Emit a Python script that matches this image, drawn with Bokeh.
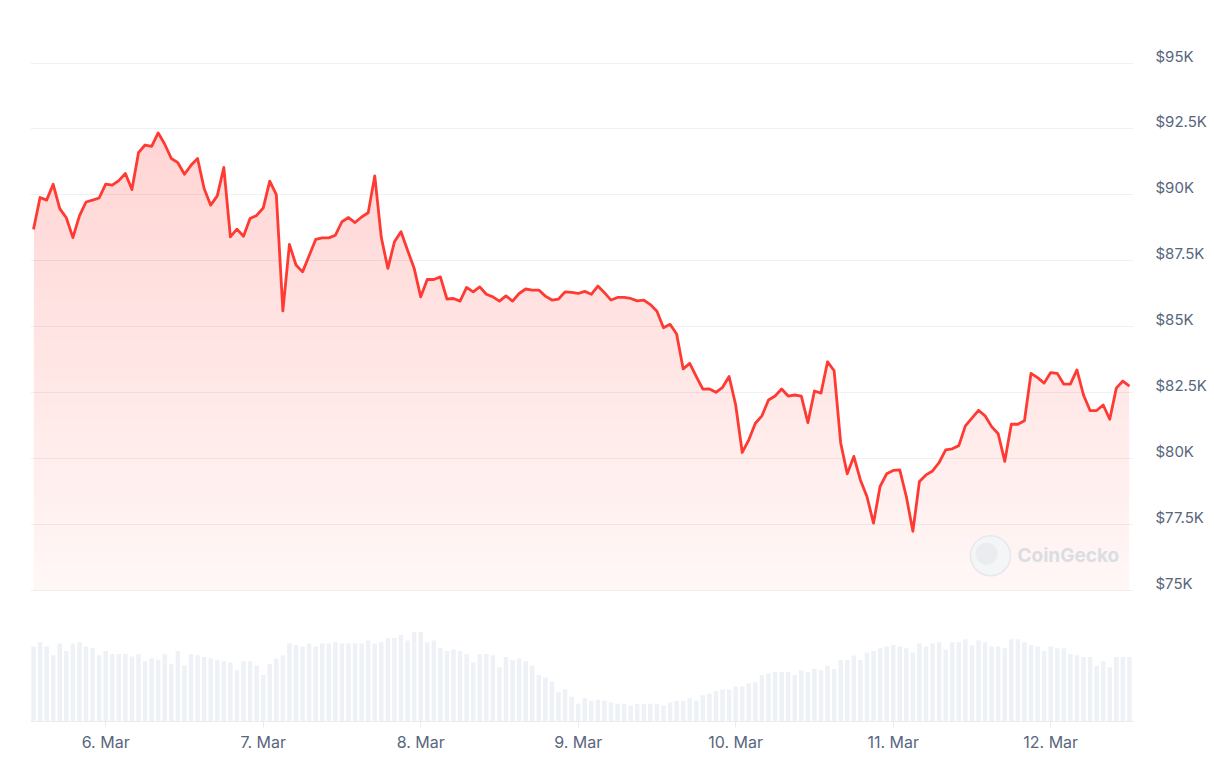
import numpy as np
import pandas as pd
from bokeh.plotting import figure
from bokeh.models import (Range1d, FixedTicker, DaysTicker,
                          CustomJSTickFormatter, Label)
from bokeh.embed import file_html
from bokeh.resources import INLINE

# ---------------- data ----------------
start_time = "2025-03-05 13:00"          # first hourly point
prices = [
    88690, 89900, 89800, 90400, 89480, 89130, 88380, 89200, 89730, 89800,
    89880, 90410, 90370, 90540, 90810, 90200, 91600, 91890, 91840, 92350,
    91920, 91380, 91220, 90780, 91120, 91380, 90240, 89610, 89960, 91040,
    88410, 88700, 88430, 89100, 89220, 89500, 90520, 90010, 85600, 88120,
    87340, 87080, 87690, 88310, 88370, 88370, 88470, 88980, 89140, 88950,
    89160, 89320, 90720, 88380, 87210, 88220, 88600, 87900, 87220, 86130,
    86790, 86790, 86890, 86050, 86070, 85970, 86490, 86320, 86510, 86230,
    86130, 85970, 86170, 85970, 86260, 86430, 86390, 86390, 86160, 86010,
    86050, 86320, 86300, 86260, 86340, 86230, 86540, 86290, 86010, 86110,
    86110, 86070, 85980, 86010, 85840, 85590, 84960, 85090, 84720, 83400,
    83610, 83110, 82630, 82640, 82510, 82700, 83110, 82030, 80230, 80710,
    81340, 81620, 82220, 82370, 82640, 82370, 82410, 82370, 81360, 82560,
    82480, 83670, 83330, 80590, 79420, 80080, 79190, 78560, 77550, 78940,
    79420, 79550, 79570, 78560, 77240, 79130, 79380, 79530, 79850, 80330,
    80370, 80490, 81240, 81530, 81830, 81620, 81210, 80940, 79890, 81300,
    81300, 81430, 83230, 83070, 82860, 83260, 83230, 82820, 82820, 83360,
    82410, 81820, 81820, 82030, 81490, 82670, 82940, 82750,
]
# 24h volume, billions USD (estimated, relative bar heights)
volumes = [
    45.0, 47.6, 45.0, 39.8, 46.8, 42.4, 46.8, 47.6, 45.0, 44.2,
    39.8, 42.4, 40.6, 40.6, 40.6, 39.0, 40.6, 36.2, 37.8, 37.0,
    40.6, 34.4, 42.4, 33.6, 40.6, 39.8, 38.8, 38.0, 37.0, 36.2,
    35.4, 31.0, 36.2, 36.2, 33.6, 28.0, 34.4, 37.8, 39.8, 46.8,
    46.0, 45.0, 46.8, 45.0, 46.8, 46.8, 47.6, 46.8, 46.8, 46.8,
    46.8, 48.6, 46.8, 47.6, 50.2, 50.2, 52.0, 48.6, 53.8, 53.8,
    47.6, 48.6, 44.2, 42.4, 43.2, 42.4, 40.6, 35.4, 40.6, 40.6,
    39.8, 32.6, 38.8, 37.0, 37.8, 36.2, 33.6, 28.0, 26.4, 24.0,
    17.6, 19.4, 14.8, 10.6, 14.0, 12.4, 13.0,
    12.4, 11.4, 10.6, 10.6, 9.6, 10.6, 10.6, 10.6, 10.6, 9.6,
    11.4, 12.4, 12.4, 14.0, 12.4, 15.8, 16.6, 18.4, 19.2, 19.2,
    21.0, 21.0, 22.8, 23.6, 28.0, 29.0, 29.8, 29.8, 29.8, 28.0,
    30.8, 29.8, 31.6, 30.8, 33.4, 31.6, 37.0, 37.0, 39.6, 37.0,
    41.4, 42.4, 44.0, 45.0, 46.0, 45.0, 44.0, 41.4, 46.8, 45.0,
    46.8, 47.6, 43.2, 47.6, 47.6, 49.4, 45.8, 48.6, 47.6, 45.0,
    45.0, 44.0, 49.4, 49.4, 47.6, 45.8, 45.0, 42.4, 45.0, 44.0,
    44.0, 40.6, 39.8, 38.8, 38.8, 33.4, 36.2, 32.6, 38.8, 38.8, 38.8,
]
price_ticks = [75000, 77500, 80000, 82500, 85000, 87500, 90000, 92500, 95000]
month_names = ["Jan", "Feb", "Mar", "Apr", "May", "Jun",
               "Jul", "Aug", "Sep", "Oct", "Nov", "Dec"]

# ---------------- layout constants ----------------
FIG_W, FIG_H = 1212, 754
B_LEFT, B_RIGHT, B_TOP, B_BOTTOM = 30, 79, 8, 32
FRAME_W = FIG_W - B_LEFT - B_RIGHT
FRAME_H = FIG_H - B_TOP - B_BOTTOM
PX_PER_HOUR = 6.5625
PX_PER_K = 26.405
TOP_TICK_PX = 54.6          # 95K gridline below frame top
VOL_PX_PER_UNIT = 5.0 / 3.0
LABEL_LIFT_PX = 7           # y labels sit a little above their gridline

RED = "#ff3a33"
LABEL_COLOR = "#58667e"
FONT = "Inter"

times = pd.date_range(start_time, periods=len(prices), freq="h")
hour = pd.Timedelta(hours=1)
x0 = times[0] - hour * (3.0 / PX_PER_HOUR)
x1 = x0 + hour * (FRAME_W / PX_PER_HOUR)
y1 = price_ticks[-1] + TOP_TICK_PX / PX_PER_K * 1000
y0 = y1 - FRAME_H / PX_PER_K * 1000

p = figure(width=FIG_W, height=FIG_H, x_axis_type="datetime",
           y_axis_location="right", output_backend="svg",
           toolbar_location=None, tools="",
           x_range=Range1d(x0, x1), y_range=Range1d(y0, y1),
           min_border_left=B_LEFT, min_border_right=B_RIGHT,
           min_border_top=B_TOP, min_border_bottom=B_BOTTOM)
p.outline_line_color = None
p.background_fill_color = "white"
p.border_fill_color = "white"
p.extra_y_ranges = {"vol": Range1d(0, FRAME_H / VOL_PX_PER_UNIT)}

# volume bars
p.vbar(x=times, top=volumes, bottom=0, width=0.68 * 3600 * 1000,
       y_range_name="vol", fill_color="#eef1f5", line_color=None)

# gradient area fill (stacked translucent bands from each level up to the line)
prices_arr = np.array(prices, dtype=float)
levels = np.arange(price_ticks[0], 92500 + 1, 500.0)
base_alpha = 0.045
top_alpha = 0.22
step_alpha = 1 - ((1 - top_alpha) / (1 - base_alpha)) ** (1.0 / (len(levels) - 1))
for i, lv in enumerate(levels):
    a = base_alpha if i == 0 else step_alpha
    p.varea(x=times, y1=lv, y2=np.maximum(prices_arr, lv),
            fill_color=RED, fill_alpha=a)

# price line
p.line(times, prices, line_color=RED, line_width=2.8, line_join="round")

# grid
p.xgrid.visible = False
p.ygrid.ticker = FixedTicker(ticks=price_ticks)
p.ygrid.grid_line_color = "#eff1f4"
p.ygrid.grid_line_width = 1

# y axis (right): label positions lifted a few pixels above each gridline
lift = LABEL_LIFT_PX / PX_PER_K * 1000
ya = p.yaxis[0]
ya.ticker = FixedTicker(ticks=[t + lift for t in price_ticks])
ya.formatter = CustomJSTickFormatter(
    args=dict(off=lift),
    code="return '$' + (Math.round(tick - off) / 1000) + 'K';")
ya.axis_line_color = None
ya.major_tick_line_color = None
ya.minor_tick_line_color = None
ya.major_tick_out = 0
ya.major_tick_in = 0
ya.major_label_standoff = 22
ya.major_label_text_font = FONT
ya.major_label_text_font_size = "15px"
ya.major_label_text_color = LABEL_COLOR

# x axis
xa = p.xaxis[0]
xa.ticker = DaysTicker(days=list(range(1, 32)))
xa.formatter = CustomJSTickFormatter(
    args=dict(months=month_names),
    code="const d = new Date(tick); return d.getUTCDate() + '. ' + months[d.getUTCMonth()];")
xa.axis_line_color = "#e8ebef"
xa.major_tick_line_color = "#e8ebef"
xa.major_tick_out = 6
xa.major_tick_in = 0
xa.minor_tick_line_color = None
xa.major_label_standoff = 4
xa.major_label_text_font = FONT
xa.major_label_text_font_size = "16px"
xa.major_label_text_color = LABEL_COLOR

# watermark
def px_to_x(px):
    return x0 + hour * ((px - B_LEFT) / PX_PER_HOUR)

def py_to_y(py):
    return y1 - (py - B_TOP) / PX_PER_K * 1000

p.scatter(x=[px_to_x(990)], y=[py_to_y(556)], marker="circle", size=40,
          fill_color="#f4f5f7", line_color="#e6e8ec", line_width=1.5)
p.scatter(x=[px_to_x(986)], y=[py_to_y(554)], marker="circle", size=22,
          fill_color="#eaecef", line_color=None)
p.add_layout(Label(x=px_to_x(1017), y=py_to_y(556), text="CoinGecko",
                   text_font=FONT, text_font_size="19px", text_font_style="bold",
                   text_color="#dadde3", text_baseline="middle", text_align="left"))

open("out.html", "w").write(file_html(p, INLINE))
